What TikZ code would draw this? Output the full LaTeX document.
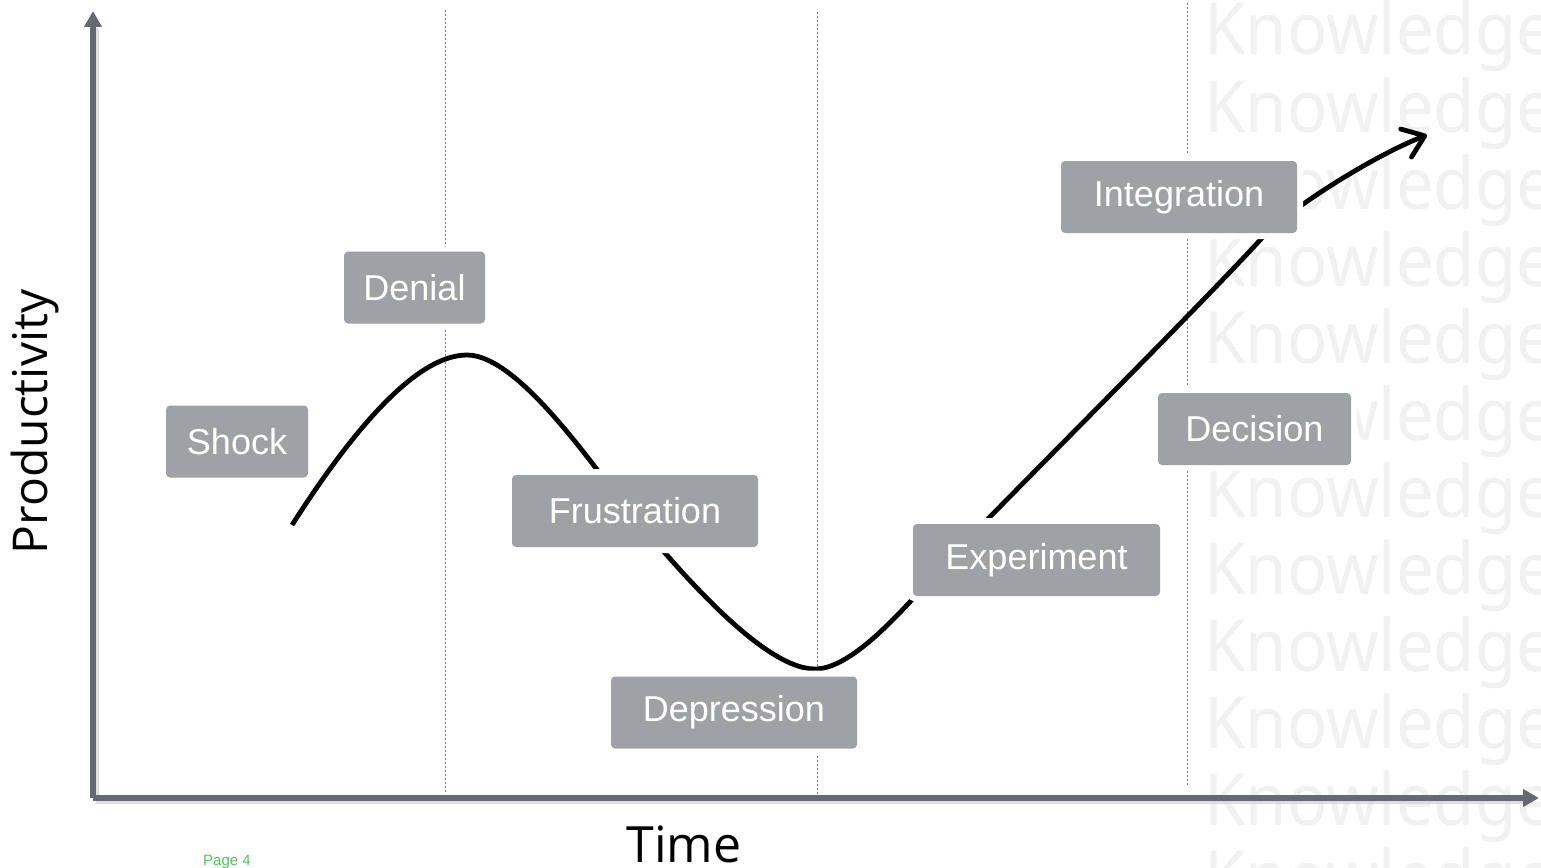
\documentclass[tikz,border=0pt]{standalone}
\usepackage{fontspec}
\setmainfont{Liberation Sans}
\newfontfamily\osans{Open Sans}
\newfontfamily\nsans{Noto Sans}
\usetikzlibrary{arrows.meta}
\definecolor{boxgray}{RGB}{160,161,165}
\definecolor{axisgray}{RGB}{104,104,112}
\definecolor{wmgray}{RGB}{241,241,241}
\definecolor{pagegreen}{RGB}{76,200,90}
\definecolor{dotgray}{RGB}{120,120,120}
\begin{document}
\begin{tikzpicture}[x=1pt,y=-1pt,
  stagebox/.style={fill=boxgray, rounded corners=4pt, text=white, inner sep=0pt,
    minimum height=72pt, font=\fontsize{36}{40}\selectfont,
    preaction={draw=white, line width=12pt}},
  guide/.style={draw=dotgray, line width=0.8pt, dash pattern=on 2pt off 2pt},
  axisline/.style={draw=axisgray, line width=6pt, -{Triangle[length=16pt,width=17pt]}},
  axisshadow/.style={draw=black!18, line width=6pt, opacity=0.7},
  curveline/.style={draw=black, line width=4.8pt, -{Straight Barb[length=20pt,width=30pt,round]}},
  wm/.style={text=wmgray, font=\nsans\fontsize{72}{80}\selectfont, anchor=base west, inner sep=0pt, xscale=0.93}
]
\useasboundingbox (0,0) rectangle (1541,867);
\clip (0,0) rectangle (1541,867);
\fill[white] (0,0) rectangle (1541,867);

% watermark
\foreach \k in {0,...,11}{
  \node[wm] (wm\k) at (1204,{55+77*\k}) {Knowledge};
}

% guide lines
\coordinate (g1t) at (445,10);  \coordinate (g1b) at (445,793);
\coordinate (g2t) at (817,12);  \coordinate (g2b) at (817,795);
\coordinate (g3t) at (1187,3);  \coordinate (g3b) at (1187,785);
\draw[guide] (g1t) -- (g1b);
\draw[guide] (g2t) -- (g2b);
\draw[guide] (g3t) -- (g3b);

% axes
\coordinate (origin) at (93,798);
\coordinate (ytip) at (93,11);
\coordinate (xtip) at (1539,798);
\coordinate (originS) at (96,801);
\coordinate (xtipS) at (1525,801);
\coordinate (ytipS) at (96,28);
\draw[axisshadow] (originS) -- (xtipS);
\draw[axisshadow] (originS) -- (ytipS);
\draw[axisline] (origin) -- (ytip);
\draw[axisline] (origin) -- (xtip);

% curve
\coordinate (c0) at (292,525);
\coordinate (peak) at (467,355);
\coordinate (infl) at (630,512);
\coordinate (trough) at (815,669);
\coordinate (rise) at (950,558);
\coordinate (upper) at (1262,238);
\coordinate (tip) at (1427,135);
\draw[curveline] (c0)
  .. controls (340,450) and (410,355) .. (peak)
  .. controls (520,355) and (598,474) .. (infl)
  .. controls (669,558) and (760,669) .. (trough)
  .. controls (858,669) and (919,590) .. (rise)
  .. controls (1019,486) and (1194,312) .. (upper)
  .. controls (1290,208) and (1375,155) .. (tip);

% stage boxes
\node[stagebox, minimum width=142pt] (shock) at (237,441.5) {Shock};
\node[stagebox, minimum width=141pt] (denial) at (414.5,287.5) {Denial};
\node[stagebox, minimum width=246pt] (frustration) at (635,511) {Frustration};
\node[stagebox, minimum width=246pt] (depression) at (734,712.5) {Depression};
\node[stagebox, minimum width=247pt] (experiment) at (1036.5,560) {Experiment};
\node[stagebox, minimum width=193pt] (decision) at (1254.5,429) {Decision};
\node[stagebox, minimum width=236pt] (integration) at (1179,197) {Integration};

% axis labels
\node[font=\osans\fontsize{48}{52}\selectfont, rotate=90, anchor=base, inner sep=0pt] (ylabel) at (47,422) {Productivity};
\node[font=\osans\fontsize{50}{54}\selectfont, anchor=base, inner sep=0pt] (xlabel) at (684,862) {Time};
\node[font=\fontsize{15}{17}\selectfont, text=pagegreen, anchor=base west, inner sep=0pt] (page) at (203,865) {Page 4};
\end{tikzpicture}
\end{document}
